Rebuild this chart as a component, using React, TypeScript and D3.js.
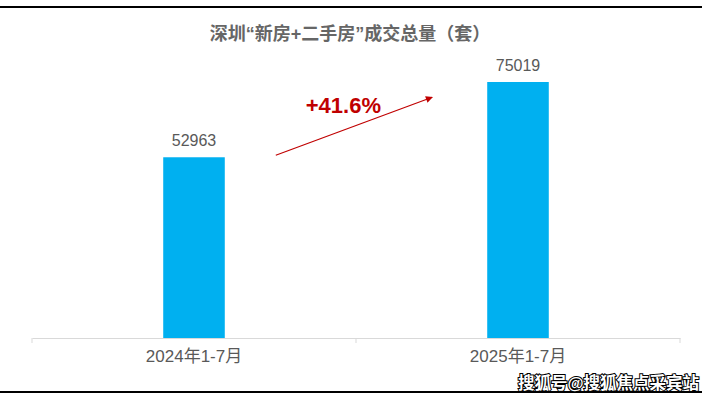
import { useRef, useEffect } from 'react';
import * as d3 from 'd3';

const categories = ['2024年1-7月', '2025年1-7月'];
const values = [52963, 75019];
const title = '深圳“新房+二手房”成交总量（套）';
const growthLabel = '+41.6%';
const watermark = '搜狐号@搜狐焦点采宾站';

const W = 702;
const H = 401;
const FONT = '"Liberation Sans", Arial, "Noto Sans CJK SC", sans-serif';

export default function App() {
  const svgRef = useRef<SVGSVGElement>(null);

  useEffect(() => {
    if (!svgRef.current) return;
    const svg = d3.select(svgRef.current);
    svg.selectAll('*').remove();

    const margin = { top: 65, right: 22, bottom: 63, left: 32 };
    const innerWidth = W - margin.left - margin.right;
    const innerHeight = H - margin.top - margin.bottom;

    const x = d3.scaleBand<string>()
      .domain(categories)
      .range([0, innerWidth])
      .paddingInner(0.81)
      .paddingOuter(0.405);

    const y = d3.scaleLinear()
      .domain([0, 80000])
      .range([innerHeight, 0]);

    svg.append('rect').attr('width', W).attr('height', H).attr('fill', '#fff');

    // frame lines top / bottom
    svg.append('line').attr('x1', 0).attr('x2', W).attr('y1', 7).attr('y2', 7)
      .attr('stroke', '#000').attr('stroke-width', 2);
    svg.append('line').attr('x1', 0).attr('x2', W).attr('y1', 392).attr('y2', 392)
      .attr('stroke', '#000').attr('stroke-width', 2);

    // Title
    svg.append('text')
      .attr('x', 350)
      .attr('y', 40)
      .attr('text-anchor', 'middle')
      .attr('font-family', FONT)
      .attr('font-size', 18)
      .attr('font-weight', 'bold')
      .attr('fill', '#666')
      .text(title);

    const g = svg.append('g')
      .attr('transform', `translate(${margin.left},${margin.top})`);

    // Bars
    g.selectAll('rect.bar')
      .data(values)
      .join('rect')
      .attr('class', 'bar')
      .attr('x', (_, i) => x(categories[i])!)
      .attr('y', d => y(d))
      .attr('width', x.bandwidth())
      .attr('height', d => innerHeight - y(d))
      .attr('fill', '#00B0F0');

    // Value labels
    g.selectAll('text.val')
      .data(values)
      .join('text')
      .attr('class', 'val')
      .attr('x', (_, i) => x(categories[i])! + x.bandwidth() / 2)
      .attr('y', d => y(d) - 11)
      .attr('text-anchor', 'middle')
      .attr('font-family', FONT)
      .attr('font-size', 16)
      .attr('fill', '#595959')
      .text(d => String(d));

    // Axis
    const axis = g.append('g')
      .attr('transform', `translate(0,${innerHeight})`)
      .call(d3.axisBottom(x).tickSize(0).tickPadding(12));
    axis.select('.domain').attr('stroke', '#d9d9d9');
    axis.selectAll('text')
      .attr('font-family', FONT)
      .attr('font-size', 17)
      .attr('fill', '#595959');
    const step = x.step();
    [0, 1, 2].forEach(i => {
      axis.append('line')
        .attr('x1', i * step).attr('x2', i * step)
        .attr('y1', 0).attr('y2', 5)
        .attr('stroke', '#d9d9d9');
    });

    // Growth arrow
    const defs = svg.append('defs');
    defs.append('marker')
      .attr('id', 'arrowhead')
      .attr('viewBox', '0 0 10 10')
      .attr('refX', 9)
      .attr('refY', 5)
      .attr('markerWidth', 9)
      .attr('markerHeight', 7)
      .attr('markerUnits', 'userSpaceOnUse')
      .attr('orient', 'auto')
      .append('path')
      .attr('d', 'M0,0L10,5L0,10z')
      .attr('fill', '#C00000');

    const x0 = x(categories[0])! + x.bandwidth() + 51;
    const x1 = x(categories[1])! - 55;
    g.append('line')
      .attr('x1', x0)
      .attr('y1', y(values[0]) - 2)
      .attr('x2', x1)
      .attr('y2', y(values[0]) - 60)
      .attr('stroke', '#C00000')
      .attr('stroke-width', 1.2)
      .attr('marker-end', 'url(#arrowhead)');

    g.append('text')
      .attr('x', x0 + 30)
      .attr('y', y(values[0]) - 44)
      .attr('font-family', FONT)
      .attr('font-size', 22)
      .attr('font-weight', 'bold')
      .attr('fill', '#C00000')
      .text(growthLabel);

    // Watermark
    svg.append('text')
      .attr('x', 699)
      .attr('y', 389)
      .attr('text-anchor', 'end')
      .attr('font-family', FONT)
      .attr('font-size', 16.5)
      .attr('font-weight', 'bold')
      .attr('fill', '#fff')
      .attr('stroke', '#000')
      .attr('stroke-width', 2)
      .attr('paint-order', 'stroke')
      .text(watermark);
  }, []);

  return (
    <svg
      ref={svgRef}
      width={W}
      height={H}
      style={{ position: 'absolute', left: 0, top: 0, display: 'block' }}
    />
  );
}
